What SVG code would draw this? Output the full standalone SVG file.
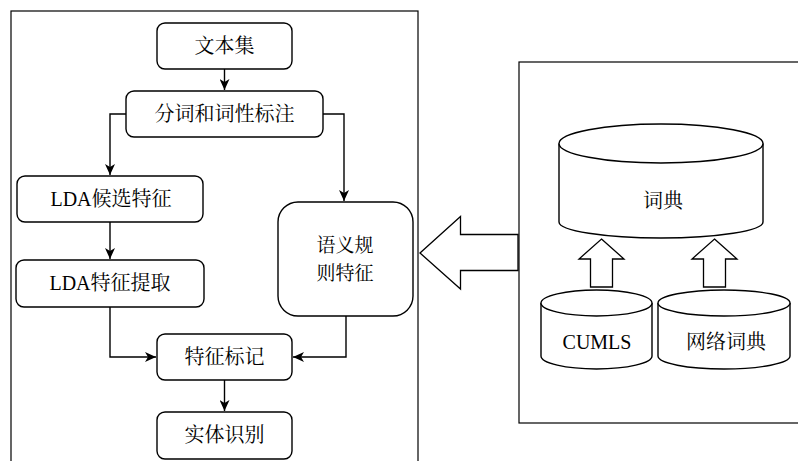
<svg xmlns="http://www.w3.org/2000/svg" width="798" height="461" viewBox="0 0 798 461">
  <style>
    .frame { fill: none; stroke: #000; stroke-width: 1.2; }
    .box { fill: #fff; stroke: #000; stroke-width: 1.4; }
    .link { fill: none; stroke: #000; stroke-width: 1.4; }
    .block { fill: #fff; stroke: #000; stroke-width: 1.3; stroke-linejoin: miter; }
    text { font-family: "Noto Serif CJK SC", "Noto Sans CJK SC", serif; font-size: 20px; fill: #000; text-anchor: middle; }
    .latin { font-family: "Liberation Serif", "Times New Roman", serif; }
    .tight { font-size: 19px; }
  </style>
  <defs>
    <marker id="arrow" viewBox="0 0 12 10" refX="11" refY="5" markerWidth="12" markerHeight="10" markerUnits="userSpaceOnUse" orient="auto">
      <path d="M11,5 L0,0 L3,5 L0,10 Z" fill="#000"/>
    </marker>
  </defs>

  <rect width="798" height="461" fill="#fff"/>

  <!-- containers -->
  <rect class="frame" x="11" y="11" width="407" height="470"/>
  <rect class="frame" x="519" y="62" width="300" height="361"/>

  <!-- pipeline connectors -->
  <g id="connectors">
    <path class="link" d="M224.5,69 V90" marker-end="url(#arrow)"/>
    <path class="link" d="M126,114 H110 V175" marker-end="url(#arrow)"/>
    <path class="link" d="M323,114 H344 V201" marker-end="url(#arrow)"/>
    <path class="link" d="M110,222 V259" marker-end="url(#arrow)"/>
    <path class="link" d="M110,307 V357 H156" marker-end="url(#arrow)"/>
    <path class="link" d="M346,316 V357 H293" marker-end="url(#arrow)"/>
    <path class="link" d="M224.5,380 V411" marker-end="url(#arrow)"/>
  </g>

  <!-- pipeline nodes -->
  <g id="wenbenji">
    <rect class="box" x="157" y="23" width="135" height="46" rx="8"/>
    <text x="224.5" y="53">文本集</text>
  </g>
  <g id="fenci">
    <rect class="box" x="126" y="91" width="197" height="46" rx="8"/>
    <text x="224.5" y="121">分词和词性标注</text>
  </g>
  <g id="lda-houxuan">
    <rect class="box" x="17" y="176" width="186" height="46" rx="8"/>
    <text x="111" y="206"><tspan class="latin">LDA</tspan>候选特征</text>
  </g>
  <g id="yuyi">
    <rect class="box" x="278" y="202" width="135" height="114" rx="20"/>
    <text class="tight" x="345" y="252">语义规<tspan x="345" dy="28">则特征</tspan></text>
  </g>
  <g id="lda-tiqu">
    <rect class="box" x="16" y="260" width="188" height="47" rx="8"/>
    <text x="110" y="290"><tspan class="latin">LDA</tspan>特征提取</text>
  </g>
  <g id="tezheng">
    <rect class="box" x="157" y="334" width="135" height="46" rx="8"/>
    <text x="224.5" y="364">特征标记</text>
  </g>
  <g id="shiti">
    <rect class="box" x="157" y="412" width="135" height="47" rx="8"/>
    <text x="224.5" y="442">实体识别</text>
  </g>

  <!-- dictionary side -->
  <g id="big-arrow">
    <polygon class="block" points="420,253 460.5,216.5 460.5,234.5 518,234.5 518,270.5 460.5,270.5 460.5,289"/>
  </g>

  <g id="cidian">
    <path class="box" d="M559,143.5 V222 A102,16 0 0 0 763,222 V143.5"/>
    <ellipse class="box" cx="661" cy="143.5" rx="102" ry="19.5"/>
    <text x="663" y="208">词典</text>
  </g>

  <g id="up-arrows">
    <polygon class="block" points="601.5,239 624,259 612.5,259 612.5,287 590.5,287 590.5,259 579,259"/>
    <polygon class="block" points="714.5,239 737,259 725.5,259 725.5,287 703.5,287 703.5,259 692,259"/>
  </g>

  <g id="cumls">
    <path class="box" d="M541,303 V356 A55.5,13 0 0 0 652,356 V303"/>
    <ellipse class="box" cx="596.5" cy="303" rx="55.5" ry="13"/>
    <text x="597" y="349" class="latin">CUMLS</text>
  </g>

  <g id="wangluo">
    <path class="box" d="M658,303 V356 A66,13 0 0 0 790,356 V303"/>
    <ellipse class="box" cx="724" cy="303" rx="66" ry="13"/>
    <text x="726" y="349">网络词典</text>
  </g>
</svg>
